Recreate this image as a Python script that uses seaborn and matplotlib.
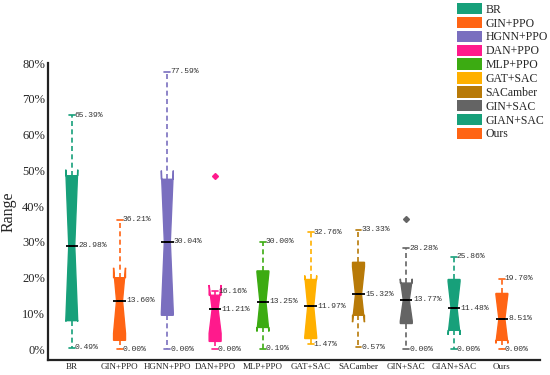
import numpy as np
import pandas as pd
import matplotlib.pyplot as plt
from matplotlib.patches import Patch
import seaborn as sns

methods = ["BR", "GIN+PPO", "HGNN+PPO", "DAN+PPO", "MLP+PPO",
           "GAT+SAC", "SACamber", "GIN+SAC", "GIAN+SAC", "Ours"]
colors = ["#17a07a", "#ff6414", "#7a6fbf", "#ff1a8c", "#3cab12",
          "#ffb000", "#b87a08", "#646464", "#17a07a", "#ff6414"]

# box statistics (percent)
mins = [0.49, 0.00, 0.00, 0.00, 0.19, 1.47, 0.57, 0.00, 0.00, 0.00]
q1s = [8.0, 2.5, 9.5, 2.2, 6.1, 3.0, 9.5, 7.2, 5.3, 2.5]
medians = [28.98, 13.60, 30.04, 11.21, 13.25, 11.97, 15.32, 13.77, 11.48, 8.51]
q3s = [48.5, 20.0, 47.5, 15.1, 21.9, 19.5, 24.3, 18.5, 19.5, 15.6]
maxs = [65.39, 36.21, 77.59, 16.16, 30.00, 32.76, 33.33, 28.28, 25.86, 19.70]
outliers = [None, None, None, 48.4, None, None, None, 36.3, None, None]

# long table for seaborn: 9 points per method so that the quartiles land on the read values
rows = []
for i, m in enumerate(methods):
    top = outliers[i] if outliers[i] is not None else maxs[i]
    vals = [mins[i], q1s[i], q1s[i], medians[i], medians[i], q3s[i], q3s[i], maxs[i], top]
    rows += [(m, v) for v in vals]
df = pd.DataFrame(rows, columns=["method", "value"])

sns.set_style("white")
plt.rcParams["font.family"] = ["Liberation Serif", "DejaVu Serif"]

fig, ax = plt.subplots(figsize=(5.5, 3.75), dpi=100)
fig.subplots_adjust(left=0.087, right=0.982, bottom=0.04, top=0.832)

for i, m in enumerate(methods):
    c = colors[i]
    sns.boxplot(data=df[df["method"] == m], x="method", y="value", order=methods,
                notch=True, width=0.25, color=c, linecolor=c, linewidth=1.0,
                saturation=1,
                whiskerprops={"linestyle": (0, (3, 2)), "linewidth": 1.2},
                capprops={"linewidth": 1.2},
                flierprops={"marker": "D", "markerfacecolor": c,
                            "markeredgecolor": c, "markersize": 3},
                medianprops={"color": "black", "linewidth": 1.3},
                ax=ax)

x = np.arange(len(methods))
ax.hlines(medians, x - 0.13, x + 0.13, color="black", linewidth=1.3, zorder=5)

lab = dict(fontsize=5.8, family="Liberation Mono", color="#333333", va="center", ha="left")
for i in range(len(methods)):
    ax.text(i + 0.06, maxs[i], f"{maxs[i]:.2f}%", **lab)
    ax.text(i + 0.14, medians[i], f"{medians[i]:.2f}%", **lab)
    ax.text(i + 0.06, mins[i], f"{mins[i]:.2f}%", **lab)

ax.set_xlim(-0.5, 9.8)
ax.set_ylim(-3, 80)
ax.set_yticks(range(0, 81, 10))
ax.set_yticklabels([f"{t}%" for t in range(0, 81, 10)], fontsize=9)
ax.tick_params(axis="x", labelsize=6.5, length=0, pad=2)
ax.tick_params(axis="y", length=0, pad=2)
ax.set_xlabel("")
ax.set_ylabel("Range", fontsize=11.5, labelpad=4)
sns.despine(ax=ax)
for s in ["left", "bottom"]:
    ax.spines[s].set_linewidth(1.6)
    ax.spines[s].set_color("#222222")

handles = [Patch(facecolor=c, edgecolor="none") for c in colors]
fig.legend(handles, methods, loc="upper left", bbox_to_anchor=(457 / 550, 1 - 3 / 375),
           frameon=False, fontsize=8.5, handlelength=2.1, handleheight=1.1,
           labelspacing=0.1, handletextpad=0.3, borderpad=0, borderaxespad=0)

fig.savefig("out.png", dpi=100)
